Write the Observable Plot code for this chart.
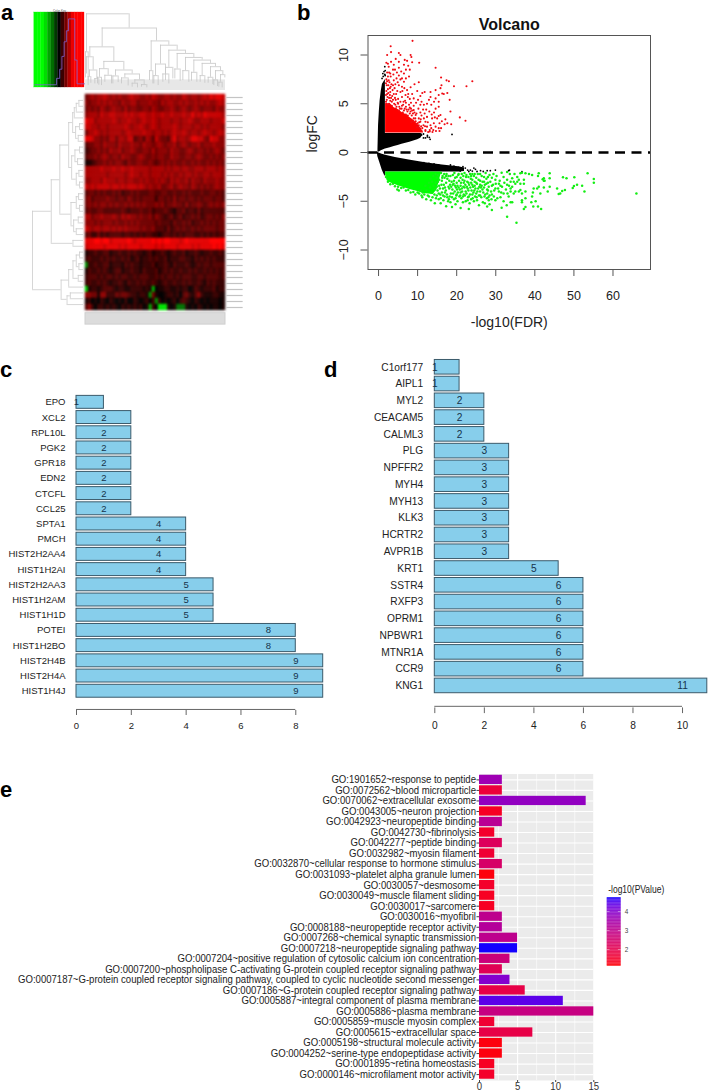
<!DOCTYPE html>
<html><head><meta charset="utf-8">
<script src="https://cdn.jsdelivr.net/npm/d3@7"></script>
<script src="https://cdn.jsdelivr.net/npm/@observablehq/plot@0.6"></script>
<style>
html,body{margin:0;padding:0;background:#fff}
#root{position:relative;width:709px;height:1092px;overflow:hidden;font-family:"Liberation Sans",Arial,sans-serif}
.tag{position:absolute;font:bold 22px/18px "Liberation Sans",Arial,sans-serif;color:#000}
</style></head><body><div id="root"></div>
<script>
// ---------- panel a: heat map (0-9 = red strength, a-i = green strength) ----------
const heatRows = [
"4565667656 5655676655 6576556656 5576566567 687887",
"5455656565 5465566455 5655465665 5656556565 655676",
"4545465456 5546455445 5465445565 4565456545 554655",
"5666576677 6667676677 6676676676 6676686768 777776",
"8775666667 6566766567 6676566656 6566765566 656667",
"7766566566 6667656676 5676566667 6566656656 566665",
"4667656566 6656766667 6656656567 6676566567 665676",
"8875545466 4665773453 6537544368 5665688775 487755",
"3445546555 4655565546 5545654556 4565455645 556555",
"2344545465 5645565445 5464555465 5445654554 545654",
"3445456545 5465544565 4454554465 5445545654 454545",
"1123445454 5543544554 4543454545 4454454544 545454",
"6666676667 6676676666 6566665656 6566556665 666565",
"6666666566 6665676656 6566656565 5656656556 656665",
"5566657666 5665665565 6556565465 6556465546 555655",
"7676777767 7676777676 5655644564 5655465454 545655",
"3443434334 3423343433 3443344334 3343433343 344343",
"4534444544 3443543434 4442443435 3443443434 443443",
"4545455454 5445454545 4445453445 4435344543 454545",
"3433443333 3343233343 3423334321 3342332423 333333",
"6645565556 5465655454 4535432342 3423343423 443435",
"5554545554 5445454544 4443433324 3343423343 434344",
"7656656656 5656555545 4453332423 4343343434 444344",
"3422423233 3323323232 3322123323 2323332232 323233",
"8889989978 8888987888 8898989988 8789888888 899999",
"7888887888 8787888878 8887878888 7888878788 889898",
"1223223312 2322323221 2312232123 2231223212 232232",
"2322232323 2232312312 2323223122 2332213232 323222",
"e223223312 2213232212 2231223213 2223212323 323333",
"1322323212 3312232213 2223123232 2322323223 232323",
"2333232332 3233223233 3223232332 3233322332 333323",
"2322323212 2321322323 2232123223 2232322321 323222",
"g122123332 1221122221 21f0112211 2122013212 223122",
"5544155222 4344322122 1e41001221 2034213521 112211",
"1201021021 0102002101 202e201012 0232102101 011101",
"3520221212 1021212120 1f20hhh101 ddd1010210 101101"
];
// row merges of the left tree: row a, row b, depth, depth of a, depth of b
const rowTree = [
[0,1,14,0,0],[.5,2,22,14,0],[1.25,3,28,22,0],[4,5,12,0,0],[6,7,16,0,0],[4.5,6.5,24,12,16],[2.1,5.5,33,28,24],
[8,9,12,0,0],[10,11,18,0,0],[8.5,10.5,26,12,18],[12,13,14,0,0],[14,15,12,0,0],[12.5,14.5,22,14,12],[9.5,13.5,36,26,22],
[3.8,11.5,45,33,36],[16,17,15,0,0],[18,19,12,0,0],[16.5,18.5,22,15,12],[20,21,16,0,0],[22,23,22,0,0],[20.5,22.5,30,16,22],
[17.5,21.5,38,22,30],[7.65,19.5,72,45,38],[24,25,32,0,0],[13.6,24.5,98,72,32],[26,27,12,0,0],[28,29,14,0,0],
[26.5,28.5,22,12,14],[30,31,16,0,0],[27.5,30.5,32,22,16],[29,32,45,32,0],[33,34,40,0,0],[33.5,35,50,40,0],
[30.8,34.1,68,45,50],[19,32.45,155,98,68]
];
// column merges of the top tree: position a, position b, height, height of a, height of b
const colTree = [
[3,131,232,117,189],[0,8,117,38,30],[50,213,189,132,150],[13,85,132,102,88],[3,23,102,50,62],[12,34,62,42,36],[8,16,42,15,22],[28,40,36,20,16],
[55,115,88,66,62],[42,68,66,40,46],[36,48,40,20,15],[58,78,46,25,20],[90,140,62,44,50],[82,98,44,20,24],[118,162,50,38,32],[108,128,38,20,14],
[148,176,32,22,18],[140,156,22,10,8],[168,184,18,10,8],[197,250,150,60,137],[192,202,60,30,20],[225,275,137,80,122],[210,240,80,45,50],
[205,218,45,20,15],[232,250,50,25,20],[250,300,122,70,112],[240,262,70,30,35],[275,325,112,65,100],[268,284,65,35,28],[300,350,100,60,92],
[292,310,60,30,25],[325,375,92,55,82],[318,334,55,28,25],[350,390,82,45,72],[344,358,45,25,22],[375,405,72,40,60],[368,382,40,22,18],
[390,412,60,32,48],[385,396,32,15,12],[405,418,48,25,38],[400,410,25,10,8]
];
const keyHist = [[-5.6,.15],[-.7,.15],[-.7,.5],[0,.5],[0,1],[.5,1],[.5,1.7],[1,1.7],[1,2.5],[1.5,2.5],[1.5,3.1],[2,3.1],[2,3.75],[3.4,3.75],[3.4,1.5],[3.9,1.5],[3.9,.2],[5.6,.2]];

// ---------- panel b: volcano ----------
const blackUpper = [[-.15,.1,.3],[0,.05,2.8],[.2,.06,4.2],[.4,.1,5.3],[.7,.18,6.3],[1,.24,7],[1.75,.35,7.5],[1.76,.35,1.95],[3,.5,1.95],[4,.62,1.95],[5,.73,1.95],[6,.85,1.95],[7,.95,1.95],[8,1.05,1.95],[9,1.18,1.95],[10,1.3,1.95],[10.8,1.45,1.95],[11.2,1.7,1.9]];
const blackLower = [[-.3,.05,-.05],[-.2,0,-.4],[.25,-.08,-.95],[.93,-.17,-1.8],[1.6,-.25,-2.4],[1.75,-.27,-2.4],[1.8,-.27,-2],[4.3,-.5,-2],[7.8,-.77,-2],[12,-1.04,-2],[16.3,-1.28,-2],[20.5,-1.45,-2],[22,-1.6,-1.95]];
const redDense = [[1.8,2,5],[3,2,5],[4,2,4.6],[5,2,4.4],[6,2,4.1],[7,2,3.9],[8,2,3.6],[9,2,3.3],[10,2,2.9],[11,2,2.4],[11.5,2,2.05]];
const greenDense = [[1.8,-2,-2.3],[2.2,-2,-2.9],[3,-2,-3.1],[5,-2,-3.4],[8,-2,-3.8],[10,-2,-4],[11.5,-2,-4.2],[14,-2,-4.3],[15,-2,-3.8],[16,-2,-2.2]];
const blackDots = [[1.2,7.8],[1.6,8],[1.4,8.3],[1.7,8.4],[1.1,8.1],[.9,7.6],[1.6,8.8],[1.7,7.9],[11,1.8],[11.5,1.9],[12,1.5],[12.5,1.6],[13,1.55],[13.2,1.35],[11.5,1.5],[12.5,1.75],[18.8,1.85],
[11.6,-1.04],[12.9,-1.11],[14.2,-1.18],[15.4,-1.28],[16.7,-1.4],[18.4,-1.28],[19.3,-1.4],[20.5,-1.52],[21.6,-1.45],[22.2,-1.6],[23.5,-1.8],[24.8,-1.73],[26.1,-1.86],[27.8,-1.86],[28.6,-1.86],[29.9,-1.8],[33.3,-1.86],[33.5,-1.8],[36.7,-1.96],
[22.8,-1.8],[23.1,-1.95],[24,-1.9],[25.2,-1.95],[26.8,-1.95],[21.5,-1.7],[20.9,-1.9],[19.8,-1.6],[24.4,-1.6]];
const redDots = [[8.7,11.45],[3.1,10.9],[2.2,10],[3.2,10.3],[5.2,10.2],[5.6,10],[8.2,10],[8.4,9.8],[6.7,9.5],[5.2,9.3],[7.3,9.4],[8.6,9.25],[10.4,9.2],[3.9,9],[2.6,8.8],[3.7,8.5],[5.2,8.7],[6.5,9],[7,8.5],[8,8.5],[14.6,8.7],[3,8.1],[2.2,8.2],[5.2,7.9],[6.5,8.1],[16,7.7],[17.4,7.4],[18,7.3],[19.3,6.8],[24,7.3],[22.5,6.8],
[2.6,7.4],[3.9,7.4],[6.5,7.25],[9.2,7],[10.3,7.2],[3.1,6.75],[4.1,6.6],[5.2,6.9],[6,6.75],[7.3,6.4],[16.1,6.9],[15.85,6.6],[14.6,6.4],[13.3,6.2],[17.6,6.1],[16.3,6.05],[16.7,6],[15.4,5.9],[11.2,6.1],[11.8,6.2],[9.9,6.3],[10.7,5.8],[9,5.55],[18.2,5.4],
[13.3,5.7],[12.9,5.4],[14.2,5.2],[15.4,5.2],[14.6,5.55],[12.4,5],[13.5,4.9],[11.6,4.9],[10.7,4.9],[15.4,4.7],[18.4,4.2],[3,6.2],[3.5,5.8],[4.5,6],[5,5.5],[6,5.7],[6.8,5.3],[7.5,5.7],[8.3,5.1],[3,5.3],[4,5],[5,5],[6,4.8],[7,4.7],[8,4.6],[9,4.8],
[15.85,3.85],[15.4,3.75],[15,3.5],[17.1,3.4],[16.9,2.9],[18.6,2.9],[20.8,3.6],[22.25,3.25],[13.7,3.5],[14.15,3],[14.6,2.65],[15.4,2.5],[13.3,2.8],[12.4,2.65],[13.1,2.3],[12,3.15],[10.7,3.15],[11.6,3.5],[10.3,3.5],[9.5,3.85],[8.2,4.2],[9,4.35],[10.7,4.1],[12.4,3.65],[10.3,2.8],[11.2,2.5],[12,2.3],[13.1,2.15],[13.5,2.5],
[8,4],[8.5,3.8],[9,3.5],[9.5,3.2],[10,3],[10.5,2.5],[11,2.2],[11.5,2.8],[12,2.2],[9.8,2.6],[10.8,3.4],[9.7,4],[8.8,4],[11,3.8],[11.9,2.7],[12.7,2.1],[12.6,3.1],[14,2.3],[14.7,2.2],[13.8,2.1],[15.6,2.2],
[2,7.5],[1.9,7.1],[2.1,6.9],[2.4,6.5],[2,6.3],[1.9,5.9],[2.3,5.7],[2.7,5.6],[2.1,5.4],[2.5,6.9],[3.3,7],[2.8,7.2],[3.6,6.4],[4.4,5.4],[4.8,6.3],[5.6,6.2],[6.4,5.2],[7,5.1],[7.8,4.9],[3.4,5.2],[4.6,4.7],[5.5,4.5],[6.5,4.3],[7.4,4.2],[2,9.2],[2.4,9.1],[3.2,9.3],[4.4,9.6],[4.7,8.2],[5.8,8.3],[7.6,8.9],[6,7.6],[7.8,7.8],[4.6,7.6],
[1.9,5.2],[2,5],[2.2,6],[2.5,6.1],[2.9,5.9],[2.3,4.9],[2.7,5],[3.2,5.6],[3.7,5.4],[3.9,6],[4.2,5.6],[4.3,4.9],[4.9,5.1],[5.3,4.7],[5.6,5.2],[5.9,4.5],[6.3,4.9],[6.7,4.5],[7.2,4.4],[7.7,4.4],[8.3,4.5],[8.6,4.3],[8.9,3.2],[9.4,3.5],[9.7,2.9],[10.2,2.6],[10.4,3.1],[10.9,2.7],[7.5,3.8],[8.1,3.4],[8.4,3.1],[7,3.9],[6.2,4.1],[5.2,4.3],[4.4,4.5],[3.4,4.8],
[2.2,7.3],[2.9,6.6],[3.7,6.9],[4.3,7],[4.9,7.2],[5.6,7.5],[6.6,6.6],[7,7.6],[7.6,6],[8.2,6.7],[8.6,6],[3.1,7.8],[3.8,8],[4.2,8.5],[2.7,8.2],[2.4,7.8],[6.1,6.3],[6.9,5.9],[8,5.5],[9.6,5.1],[10.1,5.4],[11,5.2],[11.4,4.4],[12.2,4.4],[13,4.2],[14.2,4.1],[14.6,4.5],[13.6,3.9],[10.2,4.5],[9.2,4.1],[11.8,4],[14.4,3.6],[16.2,3.2],[16,2.5],[17.6,3],[15.6,3]
];
const greenDots = [[66,-4.2],[53.5,-2.14],[50.1,-2.55],[47.2,-2.55],[48.1,-2.65],[55.1,-2.72],[55.1,-3.1],[50.8,-3.3],[52.1,-3.4],[50,-3.44],[49.7,-3.64],[52.7,-4],[47.7,-3.85],[47,-3.95],[46.5,-4.2],[46.1,-4.26],[45.7,-3.7],[43.8,-2.14],[43.8,-2.65],[42.3,-2.65],[42.3,-2.9],[42,-2.75],[42.5,-2.9],[41,-2.14],[40.8,-2.4],[39.3,-2.3],[38.5,-2.2],[37.6,-2.14],[36.3,-2.14],[35.5,-2.5],
[43.8,-3.5],[43.3,-4],[42.3,-3.6],[41,-3.5],[40.6,-3.7],[39.7,-3.7],[39.5,-4.1],[41.4,-4.2],[37.2,-3.2],[36.3,-3.2],[35.5,-3],[34.6,-3],[34.2,-3.5],[35,-4],[36.7,-4.2],[37.6,-4],[36.3,-3.85],[33.8,-4],[37.2,-2.8],[35,-3.2],[35.9,-2.8],[34.2,-2.65],[33.8,-3.7],[33.8,-3],
[37.6,-4.7],[36.7,-4.9],[36.7,-5.1],[39.3,-4.5],[40.2,-5],[39.1,-5.1],[34.2,-5.1],[37.6,-5.6],[37.2,-5.8],[39.6,-5.55],[40.8,-5.55],[41.6,-5.8],[35.3,-7.2],[32.9,-6.6],
[31.5,-2.07],[32.9,-2],[36.7,-2.07],[32,-2.5],[29.9,-2.8],[30.8,-3.2],[32.9,-2.8],[31.6,-3.5],[32.9,-3.3],[29.9,-3.7],[30.8,-4],[32,-4.2],[29.5,-4.5],[33.3,-4.5],[34.6,-4.2],[35.9,-4],[28.2,-4.9],[29.9,-4.9],[32,-5],[33.8,-5.1],[27.8,-5.55],[29,-5.9],[31.5,-5.66],[32.8,-5.4],[23.1,-5.8],[25.7,-5.4],[21,-5.7],[18.8,-5.6],[17.3,-5.5],[15.9,-5.2],[14.4,-5.2],[5.2,-3.9],[4.8,-3.8],[11.2,-4.6],[12.2,-4.8],[13.4,-4.9],
[14.6,-2.2],[14.9,-2.6],[15.2,-3],[15.5,-3.4],[15.1,-3.9],[15.8,-4.3],[15.4,-4.8],[16.4,-2.4],[16.2,-2.9],[16.7,-3.3],[16.5,-3.7],[17,-4.1],[16.9,-4.5],[16.6,-4.9],[17.4,-2.2],[17.6,-2.7],[17.3,-3.1],[17.9,-3.5],[17.5,-4.3],[18,-4.8],[17.8,-5],[18.4,-2.4],[18.7,-3],[18.3,-3.3],[18.9,-3.8],[18.5,-4.2],[18.8,-4.6],[18.4,-5.1],
[19.4,-2.1],[19.6,-2.6],[19.2,-3.2],[19.8,-3.6],[19.5,-4],[19.9,-4.4],[19.3,-4.8],[19.7,-5.3],[20.4,-2.3],[20.6,-2.9],[20.2,-3.4],[20.8,-3.8],[20.3,-4.1],[20.7,-4.5],[20.2,-5],[21.3,-2.2],[21.5,-2.8],[21.1,-3.1],[21.7,-3.5],[21.4,-4],[21.8,-4.3],[21.2,-4.7],[21.6,-5.1],
[22.4,-2.5],[22.7,-3],[22.2,-3.3],[22.8,-3.7],[22.5,-4.2],[22.9,-4.6],[22.3,-5],[23.4,-2.2],[23.6,-2.7],[23.2,-3.3],[23.8,-3.9],[23.4,-4.3],[23.7,-4.8],[23.3,-5.2],[24.4,-2.4],[24.6,-3],[24.2,-3.5],[24.8,-3.7],[24.3,-4.1],[24.7,-4.5],[24.4,-5],[25.4,-2.2],[25.6,-2.8],[25.2,-3.2],[25.8,-3.5],[25.3,-4],[25.7,-4.4],[25.2,-4.9],
[26.4,-2.4],[26.6,-3],[26.2,-3.6],[26.8,-4.1],[26.3,-4.6],[26.7,-5.1],[27.4,-2.1],[27.6,-2.7],[27.2,-3.3],[27.8,-3.8],[27.3,-4.3],[27.7,-4.7],[27.2,-5.2],[28.4,-2.3],[28.6,-3],[28.2,-3.5],[28.8,-4],[28.4,-4.4],[28.9,-4.8],[28.4,-5.3],[29.4,-2.2],[29.3,-3.3],[30.2,-2.4],[30.4,-4.7],[31,-2.9],[31.2,-4.6],[33.6,-2.2],[34.8,-2.2],
[10.4,-4.2],[10.8,-3.9],[11.3,-4.1],[11.7,-4.3],[12,-3.4],[12.3,-3.9],[12.6,-4.4],[12.9,-3.1],[13.2,-3.6],[13.5,-4.1],[13.8,-4.6],[13.3,-2.7],[13.7,-3],[14,-2.4],[14.1,-3.4],[14.4,-3.8],[14.3,-4.3],[14.7,-4.7],[14.6,-3.1],[14.9,-3.5],[15.2,-2.3],[15.5,-2.8],[15.7,-3.7],[16,-2.1],[16.1,-3.3],[16.2,-4.1],[15.9,-4.7],[16.5,-4.4],[16.9,-2.6],[17,-3.6],[17.3,-2.4],[17.2,-3.9],[17.6,-4.6],[17.9,-2.4],[18.1,-2.9],[18.1,-3.7],[18.2,-4.5],[18.6,-3.5],[19,-2.3],[19,-3.3],[19.1,-4.2],[19.3,-2.9],[19.6,-3.4],[19.7,-4.7],[20,-2.5],[20,-3.1],[20.1,-3.8],[20,-4.3],[20.5,-3.6],[20.5,-2.2],[20.9,-4.4],[21,-2.6],[21,-3.4],[21,-4.1],[21.3,-3.7],[21.7,-2.4],[21.8,-3.1],[21.6,-4.5],[22,-2.1],[22,-2.9],[22,-3.6],[22.1,-4.4],[22.3,-4],[22.5,-2.3],[22.6,-3.5],[22.8,-4.9],[23,-2.5],[23,-3.1],[23,-3.9],[23.1,-4.5],[23.5,-3.6],[23.7,-2.4],[23.7,-3.1],[24,-2.2],[24,-2.8],[24,-3.3],[24,-4.3],[24.1,-4.7],[24.6,-2.2],[24.6,-3.4],[24.5,-3.9],[25,-2.6],[25,-3.1],[25,-4.2],[25.1,-4.6],[25.5,-3.7],[26,-2.2],[26,-2.9],[26,-3.3],[26,-4],[26,-4.4],[26.4,-3.4],[26.6,-3.8],[27,-2.5],[27,-3],[27,-3.6],[27.1,-4.5],[27.6,-3.2],[27.8,-4.2],[28,-2.5],[28,-3.1],[28,-3.9],[28.1,-4.6],[29,-2.6],[29,-3.4],[29,-4.3],[29.6,-3.9],[30,-3.2],[30.6,-3.7],[31.2,-3.4],[31.4,-4.1],[32.2,-3.1],[32.6,-3.8],[33,-4.2],[33.4,-3.4],
[1.9,-2.5],[2.4,-3],[3,-3.25],[3.7,-3.2],[4.2,-3.45],[5,-3.5],[5.8,-3.65],[6.4,-3.6],[7,-3.9],[7.6,-3.85],[8.2,-4.1],[8.9,-4.05],[9.4,-4.3],[10,-4.1],[16.3,-2.6],[16.8,-2.2],[15.4,-4.2],[14.9,-4.4],[12.9,-4.5],[11,-4.4]
];

// ---------- panels c, d: gene counts ----------
const genesC = ["EPO","XCL2","RPL10L","PGK2","GPR18","EDN2","CTCFL","CCL25","SPTA1","PMCH","HIST2H2AA4","HIST1H2AI","HIST2H2AA3","HIST1H2AM","HIST1H1D","POTEI","HIST1H2BO","HIST2H4B","HIST2H4A","HIST1H4J"];
const countsC = [1,2,2,2,2,2,2,2,4,4,4,4,5,5,5,8,8,9,9,9];
const genesD = ["C1orf177","AIPL1","MYL2","CEACAM5","CALML3","PLG","NPFFR2","MYH4","MYH13","KLK3","HCRTR2","AVPR1B","KRT1","SSTR4","RXFP3","OPRM1","NPBWR1","MTNR1A","CCR9","KNG1"];
const countsD = [1,1,2,2,2,3,3,3,3,3,3,3,5,6,6,6,6,6,6,11];

// ---------- panel e: GO terms ----------
const goTerms = ["GO:1901652~response to peptide","GO:0072562~blood microparticle","GO:0070062~extracellular exosome","GO:0043005~neuron projection","GO:0042923~neuropeptide binding","GO:0042730~fibrinolysis","GO:0042277~peptide binding","GO:0032982~myosin filament","GO:0032870~cellular response to hormone stimulus","GO:0031093~platelet alpha granule lumen","GO:0030057~desmosome","GO:0030049~muscle filament sliding","GO:0030017~sarcomere","GO:0030016~myofibril","GO:0008188~neuropeptide receptor activity","GO:0007268~chemical synaptic transmission","GO:0007218~neuropeptide signaling pathway","GO:0007204~positive regulation of cytosolic calcium ion concentration","GO:0007200~phospholipase C-activating G-protein coupled receptor signaling pathway","GO:0007187~G-protein coupled receptor signaling pathway, coupled to cyclic nucleotide second messenger","GO:0007186~G-protein coupled receptor signaling pathway","GO:0005887~integral component of plasma membrane","GO:0005886~plasma membrane","GO:0005859~muscle myosin complex","GO:0005615~extracellular space","GO:0005198~structural molecule activity","GO:0004252~serine-type endopeptidase activity","GO:0001895~retina homeostasis","GO:0000146~microfilament motor activity"];
const goCounts = [3,3,14,3,3,2,3,2,3,2,2,2,2,3,3,5,5,4,3,4,6,11,15,2,7,3,3,2,2];
const goLogP = [3.6,1.7,3.8,1.4,3.1,1.5,2.2,1.6,2.4,1.2,1.5,1.4,1.4,3,3.2,3,4.7,2.7,2.1,4,1.9,4.4,2.8,1.6,1.9,1.2,1.2,1.4,1.5];

// ---------- helpers ----------
const root = document.getElementById("root");
const FONT = '"Liberation Sans",Arial,sans-serif';
const base = {style:{background:"transparent",fontFamily:FONT,overflow:"visible",maxWidth:"none"}};
function place(p,left,top,filter){
  p.style.position="absolute";p.style.left=left+"px";p.style.top=top+"px";
  if(filter)p.style.filter=filter;
  root.append(p);return p;
}
function squish(p,k){
  p.querySelectorAll("text").forEach(t=>{
    const l=t.getComputedTextLength();
    t.setAttribute("textLength",l*k);t.setAttribute("lengthAdjust","spacingAndGlyphs");
  });
}
[["a",1,20.5],["b",297,20.5],["c",0,378],["d",324,378],["e",0,797.3]].forEach(([s,x,y])=>{
  const d=document.createElement("div");d.className="tag";d.textContent=s;
  d.style.left=x+"px";d.style.top=(y-16.6)+"px";root.append(d);
});

// ---------- panel a ----------
const cells = heatRows.flatMap((r,row)=>[...r.replace(/ /g,"")].map((ch,col)=>({
  row,col,v:/\d/.test(ch)?+ch:-(ch.charCodeAt(0)-96)})));
place(Plot.plot({...base,width:170,height:240,marginLeft:0,marginRight:30,marginTop:4,marginBottom:20,
  x:{domain:[0,46],axis:null},y:{domain:[36,0],axis:null},
  color:{type:"linear",domain:[-9,0,9],range:["#00ff00","#000000","#ff0000"],interpolate:"rgb"},
  marks:[Plot.rect(cells,{x1:"col",x2:d=>d.col+1,y1:"row",y2:d=>d.row+1,fill:"v",stroke:"v",strokeWidth:.4})]
}),85,90,"blur(.8px)");
place(Plot.plot({...base,width:170,height:240,marginLeft:0,marginRight:30,marginTop:4,marginBottom:20,
  x:{domain:[0,46],axis:null},y:{domain:[36,0],axis:null},
  marks:[
    Plot.ruleY(d3.range(36),{y:d=>d+.5,x1:46.4,x2:51.8,stroke:"#c4c4c4",strokeWidth:1.2}),
    Plot.rect([0],{x1:0,x2:46,y1:36.45,y2:38.35,fill:"#dcdcdc",stroke:"#cfcfcf"})
  ]
}),85,90);
// left tree
place(Plot.plot({...base,width:52,height:240,marginLeft:0,marginRight:1,marginTop:7,marginBottom:23,
  x:{domain:[155,0],axis:null},y:{domain:[35.5,-.5],axis:null},
  marks:[
    Plot.ruleX(rowTree,{x:d=>d[2],y1:d=>d[0],y2:d=>d[1],stroke:"#cbcbcb",strokeWidth:.8}),
    Plot.ruleY(rowTree,{y:d=>d[0],x1:d=>d[2],x2:d=>d[3],stroke:"#cbcbcb",strokeWidth:.8}),
    Plot.ruleY(rowTree,{y:d=>d[1],x1:d=>d[2],x2:d=>d[4],stroke:"#cbcbcb",strokeWidth:.8})
  ]
}),32,90);
// top tree
place(Plot.plot({...base,width:140,height:80,marginLeft:0,marginRight:0,marginTop:3.3,marginBottom:0,
  x:{domain:[0,420],axis:null},y:{domain:[0,232],axis:null},
  marks:[
    Plot.ruleX(d3.range(0,420,3),{y1:0,y2:32,stroke:"#dcdcdc",strokeWidth:.7}),
    Plot.ruleY(colTree,{y:d=>d[2],x1:d=>d[0],x2:d=>d[1],stroke:"#c6c6c6",strokeWidth:.8}),
    Plot.ruleX(colTree,{x:d=>d[0],y1:d=>d[2],y2:d=>d[3],stroke:"#c6c6c6",strokeWidth:.8}),
    Plot.ruleX(colTree,{x:d=>d[1],y1:d=>d[2],y2:d=>d[4],stroke:"#c6c6c6",strokeWidth:.8})
  ]
}),85,10);
// colour key
const keySteps = d3.range(-5.7,5.7,.76);
place(Plot.plot({...base,width:62,height:92,marginLeft:9,marginRight:3,marginTop:7,marginBottom:10,
  x:{domain:[-5.66,5.58],axis:null},y:{domain:[0,4.1],axis:null},
  color:{type:"linear",domain:[-3.5,0,3.3],range:["#00ff00","#000000","#ff0000"],clamp:true,interpolate:"rgb"},
  marks:[
    Plot.rect(keySteps,{x1:d=>d,x2:d=>Math.min(d+.76,5.58),y1:0,y2:4.1,fill:d=>d+.38,stroke:d=>d+.38,strokeWidth:.3}),
    Plot.line(keyHist,{x:d=>d[0],y:d=>d[1],stroke:"#7d5fd0",strokeWidth:.8}),
    Plot.text(["Color Key"],{frameAnchor:"top",dy:-2.5,fontSize:3,fill:"#555"})
  ]
}),25,5.3);

// ---------- panel b ----------
const TXT="#222";
place(Plot.plot({...base,width:400,height:340,marginLeft:77.5,marginRight:40,marginTop:35,marginBottom:71,
  x:{domain:[-2.7,69.6],axis:null},y:{domain:[-12,12],axis:null},
  marks:[
    Plot.areaY(blackUpper,{x:d=>d[0],y1:d=>d[1],y2:d=>d[2],fill:"#000"}),
    Plot.areaY(blackLower,{x:d=>d[0],y1:d=>d[1],y2:d=>d[2],fill:"#000"}),
    Plot.areaY(redDense,{x:d=>d[0],y1:d=>d[1],y2:d=>d[2],fill:"#ff0000"}),
    Plot.areaY(greenDense,{x:d=>d[0],y1:d=>d[1],y2:d=>d[2],fill:"#00ff00"}),
    Plot.dot(blackDots,{x:d=>d[0],y:d=>d[1],r:.9,fill:"#000"}),
    Plot.dot(redDots,{x:d=>d[0],y:d=>d[1],r:1.05,fill:"#f00a12"}),
    Plot.dot(greenDots,{x:d=>d[0],y:d=>d[1],r:1.25,fill:"#14ee14"}),
    Plot.ruleY([0],{stroke:"#000",strokeWidth:2.4,strokeDasharray:"10,6.5"}),
    Plot.frame({stroke:"#555",strokeWidth:1}),
    Plot.axisX({ticks:[0,10,20,30,40,50,60],tickSize:7,tickPadding:15,fontSize:12.5,label:null,stroke:"#555",color:TXT}),
    Plot.axisY({ticks:[-10,-5,0,5,10],tickSize:7,tickPadding:13,fontSize:12.5,label:null,tickRotate:-90,stroke:"#555",color:TXT}),
    Plot.text(["Volcano"],{frameAnchor:"top",dy:-11,lineAnchor:"middle",fontSize:16,fontWeight:"bold",fill:"#111"}),
    Plot.text(["-log10(FDR)"],{frameAnchor:"bottom",dy:52.7,lineAnchor:"middle",fontSize:14,fill:TXT}),
    Plot.text(["logFC"],{frameAnchor:"left",dx:-55.2,rotate:-90,fontSize:14,fill:TXT})
  ]
}),290,0);

// ---------- panels c, d ----------
function bars(names,values,opt){
  const rows=names.map((n,i)=>({n,v:values[i]}));
  return Plot.plot({...base,width:opt.w,height:opt.h,marginLeft:opt.ml,marginRight:opt.mr,marginTop:opt.mt,marginBottom:opt.mb,
    x:{domain:[0,opt.max],axis:null},y:{domain:names,padding:opt.pad,align:.5,round:false,axis:null},
    marks:[
      Plot.barX(rows,{y:"n",x:"v",fill:"#87ceeb",stroke:"#3b5a6b",strokeWidth:1}),
      Plot.text(rows,{y:"n",x:d=>d.v-1,text:d=>d.v,fontSize:opt.fs,fill:"#16324a"}),
      Plot.axisY({tickSize:0,tickPadding:opt.pad2,fontSize:opt.fs,label:null,color:TXT}),
      Plot.ruleY([names[names.length-1]],{x1:0,x2:opt.axisMax,dy:opt.dy,stroke:"#666",strokeWidth:1}),
      Plot.axisX({ticks:d3.range(0,opt.axisMax+1,2),tickSize:opt.ts,tickPadding:opt.tp,dy:opt.dyTick,fontSize:opt.fs,label:null,stroke:"#666",color:TXT})
    ]});
}
place(bars(genesC,countsC,{w:340,h:360,ml:76,mr:17.3,mt:13.1,mb:40.5,max:9,pad:.15,fs:9.5,pad2:11,axisMax:8,dy:18.2,dyTick:10.5,ts:5,tp:7}),0,380);
place(bars(genesD,countsD,{w:369,h:395,ml:94.3,mr:2.2,mt:12.3,mb:45.1,max:11,pad:.13,fs:10.2,pad2:11.6,axisMax:10,dy:20.4,dyTick:12.5,ts:5.7,tp:8}),340,345);

// ---------- panel e ----------
const goRows = goTerms.map((t,i)=>({t,c:goCounts[i],p:goLogP[i]}));
const colorE = {type:"linear",domain:[1.12,4.72],range:["#ff0000","#0000ff"],interpolate:"lab"};
const pe = place(Plot.plot({...base,width:600,height:332,marginLeft:479,marginRight:6.7,marginTop:13.5,marginBottom:12,
  x:{domain:[0,15],axis:null},y:{domain:goTerms,padding:.12,align:.5,round:false,axis:null},color:colorE,
  marks:[
    Plot.frame({fill:"#ebebeb",stroke:null}),
    Plot.ruleX([2.5,7.5,12.5],{stroke:"#fff",strokeWidth:.6}),
    Plot.ruleX([0,5,10,15],{stroke:"#fff",strokeWidth:1.1}),
    Plot.ruleY(goTerms,{stroke:"#fff",strokeWidth:1.1}),
    Plot.barX(goRows,{y:"t",x:"c",fill:"p"}),
    Plot.axisY({tickSize:2.5,tickPadding:1,fontSize:10.5,label:null,stroke:"#444",color:"#222",tickFormat:d=>d,lineWidth:200,textOverflow:null}),
    Plot.axisX({ticks:[0,5,10,15],tickSize:2,tickPadding:.5,fontSize:10.5,label:null,stroke:"#444",color:"#333"})
  ]
}),0,760);
// narrow the labels so that the longest runs across the width seen in the picture
const longest = d3.max([...pe.querySelectorAll("text")],t=>t.getComputedTextLength());
squish(pe,458/longest);

// legend
const legend = place(Plot.plot({...base,width:80,height:90,marginLeft:1.7,marginRight:64.3,marginTop:17.3,marginBottom:4.3,
  x:{domain:[0,1],axis:null},y:{domain:[1.12,4.72],axis:null},color:colorE,
  marks:[
    Plot.rect(d3.range(1.12,4.72,.04),{x1:0,x2:1,y1:d=>d,y2:d=>d+.045,fill:d=>d+.02}),
    Plot.ruleY([2,3,4],{x1:0,x2:.2,stroke:"#fff",strokeWidth:.4}),
    Plot.ruleY([2,3,4],{x1:.8,x2:1,stroke:"#fff",strokeWidth:.4}),
    Plot.text([2,3,4],{x:1,y:d=>d,text:d=>d,dx:3.5,textAnchor:"start",fontSize:7.5,fill:"#444"}),
    Plot.text(["-log10(PValue)"],{frameAnchor:"top-left",dy:-11.5,dx:1,textAnchor:"start",fontSize:10,fill:"#222"})
  ]
}),605,880);
squish(legend,.85);
</script></body></html>
